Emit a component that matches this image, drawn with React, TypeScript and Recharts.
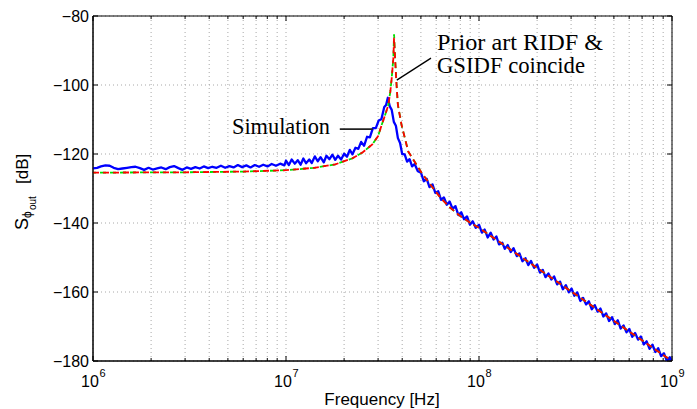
import React from "react";
import { LineChart, Line, XAxis, YAxis, CartesianGrid, ReferenceArea, ReferenceLine } from "recharts";

const W = 697;
const H = 409;
const PLOT_LEFT = 93;
const PLOT_RIGHT = 672;
const PLOT_TOP = 16;
const PLOT_BOTTOM = 361;

// Simulation (blue)
const simFreq = [
  1.0e6, 1.05e6, 1.1e6, 1.16e6, 1.22e6, 1.28e6, 1.35e6, 1.42e6, 1.5e6, 1.58e6, 1.66e6, 1.75e6, 1.84e6, 1.94e6,
  2.04e6, 2.15e6, 2.26e6, 2.38e6, 2.5e6, 2.63e6, 2.77e6, 2.91e6, 3.06e6, 3.22e6, 3.39e6, 3.57e6, 3.75e6, 3.95e6,
  4.15e6, 4.37e6, 4.6e6, 4.84e6, 5.09e6, 5.35e6, 5.63e6, 5.92e6, 6.23e6, 6.55e6, 6.89e6, 7.25e6, 7.62e6, 8.02e6,
  8.43e6, 8.87e6, 9.33e6, 9.81e6,
  1.0e7, 1.035e7, 1.07e7, 1.11e7, 1.15e7, 1.19e7, 1.23e7, 1.27e7, 1.32e7, 1.36e7, 1.41e7, 1.46e7, 1.51e7, 1.57e7,
  1.62e7, 1.68e7, 1.74e7, 1.8e7, 1.86e7, 1.93e7, 2.0e7, 2.07e7, 2.14e7, 2.21e7, 2.29e7, 2.37e7, 2.45e7, 2.54e7,
  2.63e7, 2.72e7, 2.82e7, 2.92e7, 3.02e7, 3.12e7, 3.23e7, 3.3e7, 3.37e7,
  3.45e7, 3.53e7, 3.62e7, 3.71e7, 3.8e7, 3.9e7, 4.0e7, 4.12e7, 4.24e7, 4.37e7, 4.5e7, 4.64e7, 4.82e7, 5.0e7,
  5.18e7, 5.36e7, 5.54e7, 5.74e7, 5.94e7, 6.15e7, 6.36e7, 6.58e7, 6.81e7, 7.05e7, 7.3e7, 7.55e7, 7.82e7, 8.09e7,
  8.37e7, 8.67e7, 8.97e7, 9.28e7, 9.61e7,
  1.0e8, 1.035e8, 1.07e8, 1.11e8, 1.15e8, 1.19e8, 1.23e8, 1.27e8, 1.32e8, 1.36e8, 1.41e8, 1.46e8, 1.51e8, 1.57e8,
  1.62e8, 1.68e8, 1.74e8, 1.8e8, 1.86e8, 1.93e8, 2.0e8, 2.07e8, 2.14e8, 2.21e8, 2.29e8, 2.37e8, 2.45e8, 2.54e8,
  2.63e8, 2.72e8, 2.82e8, 2.92e8, 3.02e8, 3.12e8, 3.23e8, 3.35e8, 3.46e8, 3.59e8, 3.71e8, 3.84e8, 3.98e8, 4.12e8,
  4.26e8, 4.41e8, 4.56e8, 4.72e8, 4.89e8, 5.06e8, 5.24e8, 5.42e8, 5.61e8, 5.81e8, 6.01e8, 6.22e8, 6.44e8, 6.67e8,
  6.9e8, 7.14e8, 7.39e8, 7.65e8, 7.92e8, 8.2e8, 8.48e8, 8.78e8, 9.09e8, 9.41e8, 9.74e8, 1.0e9,
];
const simDb = [
  -124.2, -124.0, -123.6, -123.3, -123.4, -124.0, -124.4, -124.2, -124.0, -123.8, -123.7, -124.1, -124.6, -124.0,
  -124.5, -124.2, -123.9, -124.4, -123.8, -123.5, -124.1, -124.6, -123.9, -124.3, -123.8, -124.2, -123.6, -124.1,
  -123.7, -124.0, -123.4, -124.0, -123.5, -123.9, -123.2, -123.8, -123.3, -123.9, -123.2, -123.7, -123.1, -123.6,
  -122.9, -123.4, -122.8, -123.3,
  -121.9, -123.2, -121.6, -122.8, -121.8, -123.1, -121.3, -122.7, -121.6, -122.6, -120.7, -122.1, -120.9, -122.4,
  -120.5, -121.5, -120.2, -121.7, -120.5, -121.6, -119.9, -120.8, -118.8, -120.1, -118.2, -118.5, -116.5, -117.6,
  -115.0, -115.2, -112.5, -112.5, -110.3, -109.9, -106.4, -105.8, -103.7,
  -106.2, -107.2, -110.7, -111.8, -115.4, -116.8, -120.0, -120.1, -122.2, -121.5, -123.6, -122.9, -125.0, -125.4,
  -127.9, -127.2, -129.6, -128.8, -131.3, -130.8, -133.3, -132.6, -134.7, -133.8, -135.9, -135.1, -137.7, -136.9,
  -138.9, -138.1, -140.5, -139.5, -141.4,
  -140.5, -142.8, -141.9, -144.2, -142.8, -144.8, -143.9, -146.2, -145.7, -147.5, -146.4, -148.4, -147.3, -149.6,
  -148.8, -151.1, -150.2, -152.2, -151.0, -153.0, -152.0, -154.4, -153.6, -155.7, -154.6, -156.4, -155.5, -157.8,
  -157.0, -159.2, -158.0, -160.1, -159.0, -161.1, -160.1, -162.6, -161.7, -163.6, -162.7, -165.0, -163.8, -165.7,
  -164.8, -167.1, -166.2, -168.4, -167.3, -169.3, -168.2, -170.6, -169.7, -171.7, -170.7, -173.0, -171.9, -173.8,
  -172.9, -175.2, -174.3, -176.5, -175.3, -177.4, -176.3, -178.6, -177.8, -180.0, -178.9, -180.2,
];

// Prior art RIDF (red dashed)
const ridfFreq = [
  1e6, 3e6, 6e6, 1e7, 1.4e7, 1.8e7, 2.2e7, 2.5e7, 2.8e7, 3.0e7, 3.13e7, 3.25e7, 3.39e7, 3.47e7, 3.53e7, 3.6e7,
  3.63e7, 3.68e7, 3.74e7, 3.8e7, 3.97e7, 4.3e7, 5.05e7, 5.5e7, 6.28e7, 7e7, 8e7, 9e7, 1e8, 1e9,
];
const ridfDb = [
  -125.4, -125.3, -125.1, -124.7, -124.0, -123.0, -121.3, -119.5, -117.2, -114.8, -111.6, -109.0, -105.8, -102.0,
  -98.0, -92.2, -86.3, -93.0, -100.0, -105.8, -111.6, -119.3, -125.5, -128.3, -132.5, -135.3, -138.0, -139.9,
  -141.4, -180.0,
];

// GSIDF (green dashed)
const gsidfFreq = [
  1e6, 3e6, 6e6, 1e7, 1.4e7, 1.8e7, 2.2e7, 2.5e7, 2.8e7, 3.0e7, 3.13e7, 3.25e7, 3.39e7, 3.47e7, 3.53e7, 3.6e7,
  3.63e7, 3.68e7, 3.74e7, 3.8e7, 3.97e7, 4.3e7, 5.05e7, 5.5e7, 6.28e7, 7e7, 8e7, 9e7, 1e8, 1e9,
];
const gsidfDb = [
  -125.4, -125.3, -125.1, -124.7, -124.0, -123.0, -121.3, -119.5, -117.2, -114.8, -111.6, -109.0, -105.8, -102.0,
  -98.0, -92.0, -85.3, -92.8, -100.0, -105.8, -111.6, -119.3, -125.5, -128.3, -132.5, -135.3, -138.0, -139.9,
  -141.4, -180.0,
];

const xTicks = [
  1e6, 2e6, 3e6, 4e6, 5e6, 6e6, 7e6, 8e6, 9e6,
  1e7, 2e7, 3e7, 4e7, 5e7, 6e7, 7e7, 8e7, 9e7,
  1e8, 2e8, 3e8, 4e8, 5e8, 6e8, 7e8, 8e8, 9e8, 1e9,
];
const xMajor: { [k: number]: string } = { 1e6: "6", 1e7: "7", 1e8: "8", 1e9: "9" };
const yTicks = [-180, -160, -140, -120, -100, -80];

const toRows = (f: number[], d: number[]) => f.map((v, i) => ({ f: v, db: d[i] }));
const simData = toRows(simFreq, simDb);
const ridfData = toRows(ridfFreq, ridfDb);
const gsidfData = toRows(gsidfFreq, gsidfDb);

const SANS = "'Liberation Sans', Arial, Helvetica, sans-serif";
const SERIF = "'Liberation Serif', 'Times New Roman', serif";

const XTick = (props: any) => {
  const { x, payload } = props;
  const v = payload.value;
  const exp = xMajor[v];
  const len = exp ? 5 : 3;
  return (
    <g>
      <line x1={x} x2={x} y1={PLOT_BOTTOM} y2={PLOT_BOTTOM - len} stroke="#000" strokeWidth={1} />
      <line x1={x} x2={x} y1={PLOT_TOP} y2={PLOT_TOP + len} stroke="#000" strokeWidth={1} />
      {exp && (
        <text fontFamily={SANS} fill="#000">
          <tspan x={x - 12} y={386.5} fontSize={16}>10</tspan>
          <tspan x={x + 6.5} y={377} fontSize={11}>{exp}</tspan>
        </text>
      )}
    </g>
  );
};

const YTick = (props: any) => {
  const { y, payload } = props;
  const v = payload.value;
  const label = v < 0 ? "\u2212" + Math.abs(v) : String(v);
  return (
    <g>
      <line x1={PLOT_LEFT} x2={PLOT_LEFT + 5} y1={y} y2={y} stroke="#000" strokeWidth={1} />
      <line x1={PLOT_RIGHT} x2={PLOT_RIGHT - 5} y1={y} y2={y} stroke="#000" strokeWidth={1} />
      <text x={PLOT_LEFT - 4} y={y + 6} textAnchor="end" fontFamily={SANS} fontSize={16} fill="#000">
        {label}
      </text>
    </g>
  );
};

export default function App() {
  return (
    <div style={{ position: "absolute", left: 0, top: 0, width: W, height: H, background: "#fff" }}>
      <LineChart
        width={W}
        height={H}
        margin={{ top: PLOT_TOP, right: W - PLOT_RIGHT, bottom: 18, left: 33 }}
      >
        <CartesianGrid stroke="#a8a8a8" strokeDasharray="1 3" strokeWidth={1} />
        <XAxis
          dataKey="f"
          type="number"
          scale="log"
          domain={[1e6, 1e9]}
          ticks={xTicks}
          interval={0}
          allowDataOverflow
          height={30}
          tick={<XTick />}
          tickLine={false}
          axisLine={{ stroke: "#000" }}
        />
        <YAxis
          type="number"
          domain={[-180, -80]}
          ticks={yTicks}
          interval={0}
          allowDataOverflow
          width={60}
          tick={<YTick />}
          tickLine={false}
          axisLine={{ stroke: "#000" }}
        />
        <ReferenceArea x1={1e6} x2={1e9} y1={-180} y2={-80} fill="none" stroke="#000" strokeWidth={1} />
        <Line
          data={simData}
          dataKey="db"
          stroke="#0000ff"
          strokeWidth={2.3}
          dot={false}
          isAnimationActive={false}
          strokeLinejoin="round"
        />
        <Line
          data={gsidfData}
          dataKey="db"
          stroke="#00e000"
          strokeWidth={1.8}
          strokeDasharray="6 4"
          strokeDashoffset={3}
          dot={false}
          isAnimationActive={false}
        />
        <Line
          data={ridfData}
          dataKey="db"
          stroke="#ff0000"
          strokeWidth={1.8}
          strokeDasharray="6 4"
          dot={false}
          isAnimationActive={false}
        />
        <ReferenceLine
          segment={[{ x: 1.9e7, y: -112.8 }, { x: 2.82e7, y: -112.8 }]}
          stroke="#222"
          strokeWidth={1.8}
        />
        <ReferenceLine
          segment={[{ x: 3.75e7, y: -98.6 }, { x: 5.64e7, y: -92.2 }]}
          stroke="#000"
          strokeWidth={1.3}
        />
      </LineChart>
      <svg
        width={W}
        height={H}
        style={{ position: "absolute", left: 0, top: 0, pointerEvents: "none" }}
      >
        <text x={232} y={134} fontFamily={SERIF} fontSize={23} fill="#000" textLength={98} lengthAdjust="spacingAndGlyphs">
          Simulation
        </text>
        <text x={437} y={50} fontFamily={SERIF} fontSize={23} fill="#000" textLength={166} lengthAdjust="spacingAndGlyphs">
          Prior art RIDF &amp;
        </text>
        <text x={437} y={73} fontFamily={SERIF} fontSize={23} fill="#000" textLength={148} lengthAdjust="spacingAndGlyphs">
          GSIDF coincide
        </text>
        <text x={382} y={405} textAnchor="middle" fontFamily={SANS} fontSize={17} fill="#000">
          Frequency [Hz]
        </text>
        <g transform="rotate(-90)" fontFamily={SANS} fill="#000">
          <text>
            <tspan x={-230} y={28} fontSize={18}>S</tspan>
            <tspan x={-218} y={31} fontSize={12}>{"\u03D5"}</tspan>
            <tspan x={-210} y={36} fontSize={10}>out</tspan>
            <tspan x={-184} y={28} fontSize={17}>[dB]</tspan>
          </text>
        </g>
      </svg>
    </div>
  );
}
